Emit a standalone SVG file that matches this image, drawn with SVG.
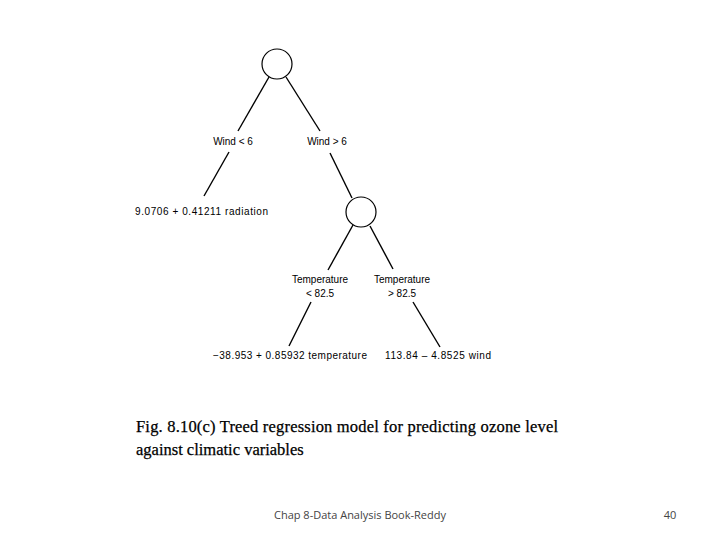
<svg xmlns="http://www.w3.org/2000/svg" width="720" height="540" viewBox="0 0 720 540">
<style>
.n{fill:#fff;stroke:#000;stroke-width:1.2}
.e line{stroke:#000;stroke-width:1.4}
.t{font-family:"Liberation Sans",sans-serif;font-size:10px;fill:#000}
.c{font-family:"Liberation Serif",serif;font-size:16.5px;fill:#000;stroke:#000;stroke-width:0.25}
.f{font-family:"Open Sans",sans-serif;font-size:11px;fill:#444}
</style>
<rect width="720" height="540" fill="#fff"/>
<g class="e" id="connectors">
<line x1="269" y1="77" x2="238" y2="131"/>
<line x1="286" y1="77" x2="320" y2="131"/>
<line x1="229" y1="152" x2="204" y2="196"/>
<line x1="330" y1="153" x2="352" y2="198"/>
<line x1="353" y1="225" x2="328" y2="270"/>
<line x1="370" y1="226" x2="393" y2="269"/>
<line x1="311" y1="302" x2="289" y2="346"/>
<line x1="413" y1="302" x2="440" y2="347"/>
</g>
<g id="root"><circle class="n" cx="277" cy="64" r="15"/></g>
<g id="split2"><circle class="n" cx="361" cy="212" r="15"/></g>
<g id="l1"><text class="t" x="233" y="145" text-anchor="middle">Wind &lt; 6</text></g>
<g id="l2"><text class="t" x="327" y="145" text-anchor="middle">Wind &gt; 6</text></g>
<g id="leaf1"><text class="t" x="135" y="215" textLength="133">9.0706 + 0.41211 radiation</text></g>
<g id="l3"><text class="t" x="320" y="283" text-anchor="middle">Temperature</text><text class="t" x="320" y="297" text-anchor="middle">&lt; 82.5</text></g>
<g id="l4"><text class="t" x="402" y="283" text-anchor="middle">Temperature</text><text class="t" x="402" y="297" text-anchor="middle">&gt; 82.5</text></g>
<g id="leaf2"><text class="t" x="213" y="359" textLength="154">−38.953 + 0.85932 temperature</text></g>
<g id="leaf3"><text class="t" x="385" y="359" textLength="106">113.84 – 4.8525 wind</text></g>
<text class="c" x="136" y="432" textLength="422">Fig. 8.10(c) Treed regression model for predicting ozone level</text>
<text class="c" x="136" y="455">against climatic variables</text>
<text class="f" x="360" y="519" text-anchor="middle">Chap 8-Data Analysis Book-Reddy</text>
<text class="f" x="670" y="519" text-anchor="middle">40</text>
</svg>
